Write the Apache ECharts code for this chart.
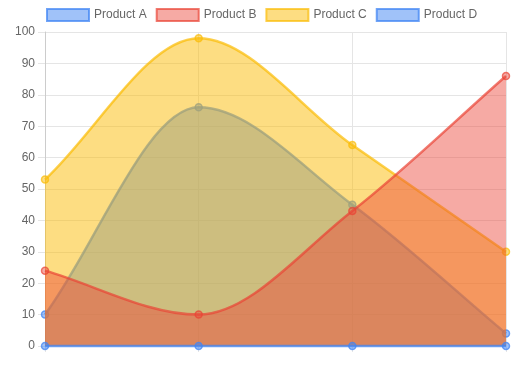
<!DOCTYPE html>
<html><head><meta charset="utf-8">
<script src="https://cdn.jsdelivr.net/npm/echarts@6/dist/echarts.min.js"></script>
<style>html,body{margin:0;padding:0;background:#fff}#c{width:527px;height:371px}</style>
</head><body><div id="c"></div>
<script>
const categories = ['Q1', 'Q2', 'Q3', 'Q4'];
const seriesNames = ['Product A', 'Product B', 'Product C', 'Product D'];
const productA = [10, 76, 45, 4];
const productB = [24, 10, 43, 86];
const productC = [53, 98, 64, 30];
const productD = [0, 0, 0, 0];
const yTicks = [0, 10, 20, 30, 40, 50, 60, 70, 80, 90, 100];

const colors = {
  'Product A': ['rgba(66,133,244,0.75)', 'rgba(66,133,244,0.5)'],
  'Product B': ['rgba(234,67,53,0.7)', 'rgba(234,67,53,0.45)'],
  'Product C': ['rgba(251,188,5,0.7)', 'rgba(251,188,5,0.5)'],
  'Product D': ['rgba(66,133,244,0.75)', 'rgba(66,133,244,0.5)']
};
const drawOrder = ['Product A', 'Product C', 'Product B', 'Product D'];
const values = {'Product A': productA, 'Product B': productB, 'Product C': productC, 'Product D': productD};

// Monotone cubic interpolation (Fritsch-Carlson), in pixel space
function monotonePath(pts) {
  const n = pts.length, d = [], m = [];
  for (let i = 0; i < n - 1; i++) d[i] = (pts[i + 1][1] - pts[i][1]) / (pts[i + 1][0] - pts[i][0]);
  m[0] = d[0]; m[n - 1] = d[n - 2];
  for (let i = 1; i < n - 1; i++) m[i] = (Math.sign(d[i - 1]) !== Math.sign(d[i]) || d[i - 1] === 0 || d[i] === 0) ? 0 : (d[i - 1] + d[i]) / 2;
  for (let i = 0; i < n - 1; i++) {
    if (Math.abs(d[i]) < 1e-9) { m[i] = 0; m[i + 1] = 0; continue; }
    const a = m[i] / d[i], b = m[i + 1] / d[i], t = a * a + b * b;
    if (t > 9) { const k = 3 / Math.sqrt(t); m[i] = a * k * d[i]; m[i + 1] = b * k * d[i]; }
  }
  let p = 'M' + pts[0][0] + ' ' + pts[0][1];
  for (let i = 0; i < n - 1; i++) {
    const h = (pts[i + 1][0] - pts[i][0]) / 3;
    p += ' C' + (pts[i][0] + h) + ' ' + (pts[i][1] + m[i] * h) + ' ' + (pts[i + 1][0] - h) + ' ' + (pts[i + 1][1] - m[i + 1] * h) + ' ' + pts[i + 1][0] + ' ' + pts[i + 1][1];
  }
  return p;
}

const series = [];
drawOrder.forEach((n, k) => {
  const vals = values[n];
  series.push({
    name: n, type: 'custom', z: 2 + k, data: [[0, 0]], silent: true,
    renderItem: (params, api) => {
      const pts = vals.map((v, i) => api.coord([i, v]));
      const base = api.coord([0, 0])[1];
      const line = monotonePath(pts);
      const area = line + ' L' + pts[pts.length - 1][0] + ' ' + base + ' L' + pts[0][0] + ' ' + base + ' Z';
      return {
        type: 'group', children: [
          {type: 'path', shape: {pathData: area}, style: {fill: colors[n][1], stroke: null}},
          {type: 'path', shape: {pathData: line}, style: {fill: null, stroke: colors[n][0], lineWidth: 2.5}}
        ]
      };
    }
  });
  series.push({
    name: n, type: 'line', z: 2 + k, data: vals,
    symbol: 'circle', symbolSize: 7, showSymbol: true,
    lineStyle: {width: 0, opacity: 0},
    itemStyle: {color: colors[n][1], borderColor: colors[n][0], borderWidth: 1.5}
  });
});

const chart = echarts.init(document.getElementById('c'));
chart.setOption({
  animation: false,
  legend: {
    data: seriesNames.map(n => ({name: n, icon: 'rect', itemStyle: {color: colors[n][1], borderColor: colors[n][0], borderWidth: 2}})),
    top: 3, left: 41, itemWidth: 42, itemHeight: 12, itemGap: 9,
    textStyle: {color: '#666', fontSize: 12, fontFamily: 'Liberation Sans, Arial, sans-serif'}
  },
  grid: {left: 45, right: 21, top: 32, bottom: 25, containLabel: false},
  xAxis: {
    type: 'category', data: categories, boundaryGap: false,
    axisLabel: {show: false},
    axisLine: {show: true, lineStyle: {color: '#ddd'}},
    axisTick: {show: true, length: 6, lineStyle: {color: '#e5e5e5'}},
    splitLine: {show: true, lineStyle: {color: '#e5e5e5'}}
  },
  yAxis: {
    type: 'value', min: yTicks[0], max: yTicks[yTicks.length - 1], interval: 10,
    axisLabel: {color: '#666', fontSize: 12, margin: 10, fontFamily: 'Liberation Sans, Arial, sans-serif'},
    axisLine: {show: true, lineStyle: {color: '#ccc'}},
    axisTick: {show: true, length: 7, lineStyle: {color: '#e5e5e5'}},
    splitLine: {show: true, lineStyle: {color: '#e5e5e5'}}
  },
  series: series
});
</script></body></html>
